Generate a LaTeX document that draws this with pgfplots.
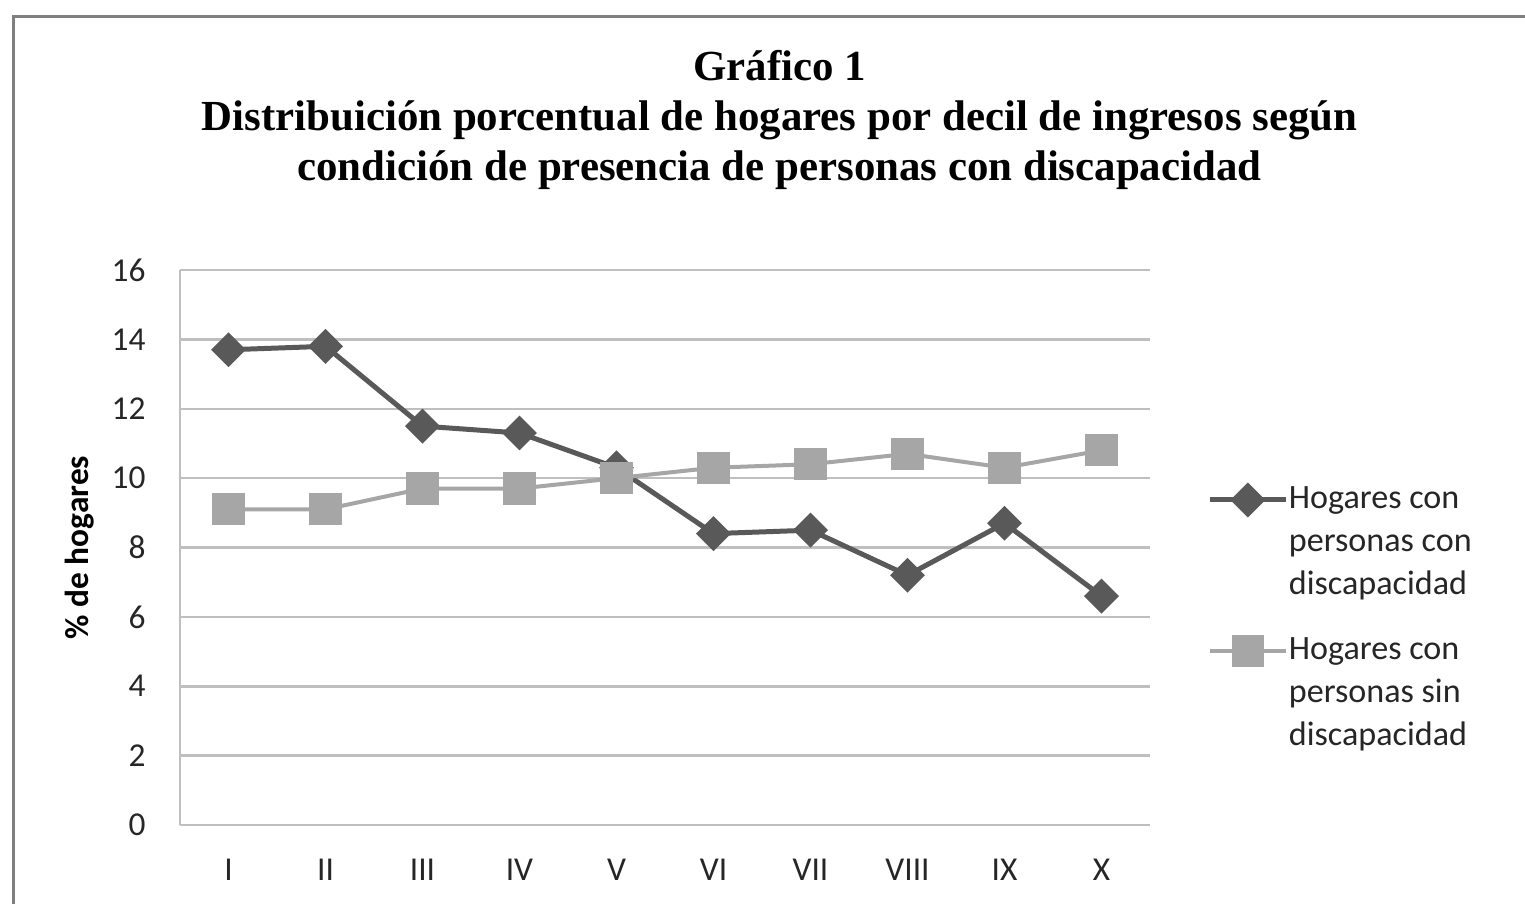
\documentclass[border=0pt]{standalone}
\usepackage{pgfplots}
\pgfplotsset{compat=1.18}
\usepackage{fontspec}
\setmainfont{Carlito}
\newfontfamily\titlefont{Liberation Serif}
\definecolor{cDark}{HTML}{595959}
\definecolor{cLight}{HTML}{A6A6A6}
\definecolor{cGrid}{HTML}{BFBFBF}
\definecolor{cFrame}{HTML}{7F7F7F}
\definecolor{cText}{HTML}{262626}

\begin{document}
\begin{tikzpicture}
\useasboundingbox (0,0) rectangle (15.25,9.03);
\begin{scope}
\clip (0,0) rectangle (15.25,9.03);
\draw[cFrame, line width=0.3mm] (0.13,-0.5) -- (0.13,8.86) -- (15.8,8.86);
\end{scope}

\node[align=center, font=\titlefont\bfseries\fontsize{12.2}{14.2}\selectfont, text=black]
  at (7.795,7.83) {Gráfico 1\\Distribuición porcentual de hogares por decil de ingresos según\\condición de presencia de personas con discapacidad};

\begin{axis}[
  at={(1.80cm,0.78cm)}, anchor=south west,
  scale only axis,
  width=9.7cm, height=5.55cm,
  xmin=0.5, xmax=10.5,
  ymin=0, ymax=16,
  xtick={1,...,10},
  xticklabels={I,II,III,IV,V,VI,VII,VIII,IX,X},
  ytick={0,2,...,16},
  /pgf/number format/assume math mode=true,
  major tick length=0pt,
  ymajorgrids,
  grid style={cGrid, line width=0.25mm},
  axis x line*=bottom, axis y line*=left,
  axis line style={cGrid, line width=0.25mm, -},
  tick label style={font=\fontsize{9.5}{11}\selectfont, text=cText},
  yticklabel style={xshift=-2.2mm},
  xticklabel style={yshift=-2.2mm},
  ylabel={\% de hogares},
  ylabel style={font=\bfseries\fontsize{9.5}{11}\selectfont, text=black, at={(axis description cs:-0.103,0.5)}, anchor=center},
  legend style={at={(axis description cs:1.061,0.622)}, anchor=north west, draw=none, inner sep=0pt,
    row sep=2.6mm, font=\fontsize{9.7}{12.2}\selectfont, text=cText,
    nodes={inner ysep=0.6mm, inner xsep=0.3mm, align=left}},
  legend cell align=left,
  legend image code/.code={
    \path[draw=none, fill=none] (0cm,0cm) rectangle (0.76cm,0cm);
    \draw[overlay, yshift=4.3mm, mark repeat=2, mark phase=2] plot coordinates {(0cm,0cm) (0.38cm,0cm) (0.76cm,0cm)};},
]
\addplot[color=cDark, line width=0.5mm, mark=square*, mark size=2.8pt, mark options={rotate=45, fill=cDark, draw=cDark}]
  coordinates {(1,13.7)(2,13.8)(3,11.5)(4,11.3)(5,10.3)(6,8.4)(7,8.5)(8,7.2)(9,8.7)(10,6.6)};
\addlegendentry{Hogares con\\personas con\\discapacidad}
\addplot[color=cLight, line width=0.4mm, mark=square*, mark size=4pt, mark options={fill=cLight, draw=cLight}]
  coordinates {(1,9.1)(2,9.1)(3,9.7)(4,9.7)(5,10.0)(6,10.3)(7,10.4)(8,10.7)(9,10.3)(10,10.8)};
\addlegendentry{Hogares con\\personas sin\\discapacidad}
\end{axis}
\end{tikzpicture}
\end{document}
